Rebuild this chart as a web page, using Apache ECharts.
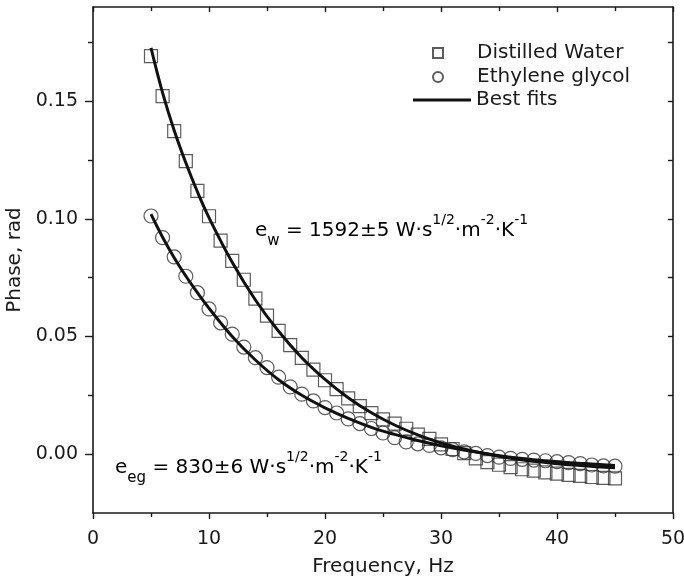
<!DOCTYPE html>
<html>
<head>
<meta charset="utf-8">
<script src="https://cdn.jsdelivr.net/npm/echarts@6/dist/echarts.min.js"></script>
<style>
	html, body { margin: 0; padding: 0; background: #fff; }
	#chart { width: 684px; height: 584px; }
</style>
</head>
<body>
<div id="chart"></div>
<script>
	// measured points, Hz
	var freq = [5, 6, 7, 8, 9, 10, 11, 12, 13, 14, 15, 16, 17, 18, 19, 20, 21, 22, 23, 24, 25,
		26, 27, 28, 29, 30, 31, 32, 33, 34, 35, 36, 37, 38, 39, 40, 41, 42, 43, 44, 45];
	var water = [0.1691, 0.1521, 0.1373, 0.1245, 0.1119, 0.1011, 0.0907, 0.0821, 0.0741, 0.0661, 0.0589,
		0.0524, 0.0463, 0.0409, 0.0359, 0.0314, 0.0276, 0.0237, 0.0204, 0.0174, 0.0148,
		0.0130, 0.0108, 0.0083, 0.0065, 0.0042, 0.0022, 0.0004, -0.0018, -0.0034, -0.0045,
		-0.0055, -0.0064, -0.0070, -0.0077, -0.0083, -0.0088, -0.0092, -0.0097, -0.0101, -0.0103];
	var glycol = [0.1012, 0.0920, 0.0838, 0.0756, 0.0686, 0.0617, 0.0558, 0.0510, 0.0455, 0.0410, 0.0368,
		0.0327, 0.0286, 0.0255, 0.0226, 0.0198, 0.0175, 0.0150, 0.0130, 0.0109, 0.0090,
		0.0070, 0.0052, 0.0044, 0.0037, 0.0027, 0.0019, 0.0010, 0.0003, -0.0006, -0.0013,
		-0.0018, -0.0022, -0.0025, -0.0028, -0.0032, -0.0036, -0.0040, -0.0046, -0.0050, -0.0051];

	// best fit curves
	var fitFreq = [5, 6, 7, 8, 9, 10, 12, 14, 16, 18, 20, 22, 24, 26, 28, 30, 33, 36, 39, 42, 45];
	var waterFit = [0.1726, 0.1535, 0.1375, 0.1238, 0.1115, 0.1005, 0.0815, 0.0655, 0.0522, 0.0410, 0.0318,
		0.0240, 0.0176, 0.0124, 0.0082, 0.0048, 0.0010, -0.0017, -0.0035, -0.0048, -0.0058];
	var glycolFit = [0.1020, 0.0922, 0.0835, 0.0757, 0.0686, 0.0620, 0.0500, 0.0400, 0.0316, 0.0250, 0.0197,
		0.0152, 0.0114, 0.0084, 0.0058, 0.0036, 0.0009, -0.0013, -0.0028, -0.0039, -0.0048];

	var yMajor = [0, 0.05, 0.10, 0.15];
	var yMinor = [0.025, 0.075, 0.125, 0.175];
	var yAll = [0, 0.025, 0.05, 0.075, 0.10, 0.125, 0.15, 0.175];

	var FONT = 'DejaVu Sans';
	var INK = '#1a1a1a';

	function pairs(xs, ys) {
		var out = [];
		for (var i = 0; i < xs.length; i++) {
			out.push([xs[i], ys[i]]);
		}
		return out;
	}

	var chart = echarts.init(document.getElementById('chart'), null, {renderer: 'canvas'});

	// sup sits at the line top, sub at the line bottom, main text in the middle
	var richText = {
		m: {fontSize: 20, fontFamily: FONT, color: INK, lineHeight: 36, verticalAlign: 'middle'},
		sub: {fontSize: 15, fontFamily: FONT, color: INK, verticalAlign: 'bottom'},
		sup: {fontSize: 14, fontFamily: FONT, color: INK, verticalAlign: 'top'}
	};

	chart.setOption({
		animation: false,
		backgroundColor: '#fff',
		grid: {left: 93, right: 11, top: 7, bottom: 71, outerBoundsMode: 'none'},
		legend: [
			{
				data: ['Distilled Water'], left: 432, top: 43, padding: 0,
				itemWidth: 10, itemHeight: 10, selectedMode: false,
				textStyle: {fontFamily: FONT, fontSize: 20, color: INK, padding: [0, 0, 0, 29]}
			},
			{
				data: ['Ethylene glycol'], left: 432, top: 67, padding: 0,
				itemWidth: 10, itemHeight: 10, selectedMode: false,
				textStyle: {fontFamily: FONT, fontSize: 20, color: INK, padding: [0, 0, 0, 29]}
			},
			{
				data: [{name: 'Best fits', icon: 'rect'}], left: 413, top: 90, padding: 0,
				itemWidth: 58, itemHeight: 3, selectedMode: false,
				itemStyle: {color: '#111'},
				textStyle: {fontFamily: FONT, fontSize: 20, color: INK}
			}
		],
		xAxis: [
			{
				type: 'value', position: 'bottom', min: 0, max: 50, interval: 10,
				name: 'Frequency, Hz', nameLocation: 'middle', nameGap: 44,
				nameTextStyle: {fontFamily: FONT, fontSize: 20, color: INK},
				axisLine: {onZero: false, lineStyle: {color: INK, width: 1.6}},
				axisTick: {length: 6, lineStyle: {color: INK, width: 1.4}},
				minorTick: {show: true, splitNumber: 2, length: 4, lineStyle: {color: INK, width: 1.4}},
				axisLabel: {fontFamily: FONT, fontSize: 19, color: INK, margin: 17},
				splitLine: {show: false}
			},
			{
				type: 'value', position: 'top', min: 0, max: 50, interval: 10,
				axisLine: {onZero: false, lineStyle: {color: INK, width: 1.6}},
				axisTick: {inside: true, length: 5, lineStyle: {color: INK, width: 1.4}},
				minorTick: {show: true, splitNumber: 2, length: 4, lineStyle: {color: INK, width: 1.4}},
				axisLabel: {show: false},
				splitLine: {show: false}
			}
		],
		yAxis: [
			{
				type: 'value', position: 'left', min: -0.025, max: 0.19,
				name: 'Phase, rad', nameLocation: 'middle', nameGap: 68,
				nameTextStyle: {fontFamily: FONT, fontSize: 20, color: INK},
				axisLine: {show: true, onZero: false, lineStyle: {color: INK, width: 1.6}},
				axisTick: {show: true, length: 8, customValues: yMajor, lineStyle: {color: INK, width: 1.4}},
				axisLabel: {
					fontFamily: FONT, fontSize: 19, color: INK, margin: 15, customValues: yMajor,
					formatter: function (v) { return v.toFixed(2); }
				},
				splitLine: {show: false}
			},
			{
				type: 'value', position: 'left', min: -0.025, max: 0.19,
				axisLine: {show: false, onZero: false},
				axisTick: {show: true, length: 5, customValues: yMinor, lineStyle: {color: INK, width: 1.4}},
				axisLabel: {show: false},
				splitLine: {show: false}
			},
			{
				type: 'value', position: 'right', min: -0.025, max: 0.19,
				axisLine: {show: true, onZero: false, lineStyle: {color: INK, width: 1.6}},
				axisTick: {show: true, inside: true, length: 5, customValues: yAll, lineStyle: {color: INK, width: 1.4}},
				axisLabel: {show: false},
				splitLine: {show: false}
			}
		],
		series: [
			{
				name: 'Distilled Water', type: 'scatter', data: pairs(freq, water),
				symbol: 'rect', symbolSize: 13, z: 2,
				itemStyle: {color: 'rgba(255,255,255,0)', borderColor: '#333', borderWidth: 1.2}
			},
			{
				name: 'Ethylene glycol', type: 'scatter', data: pairs(freq, glycol),
				symbol: 'circle', symbolSize: 14, z: 2,
				itemStyle: {color: 'rgba(255,255,255,0)', borderColor: '#333', borderWidth: 1.2}
			},
			{
				name: 'Best fits', type: 'line', data: pairs(fitFreq, waterFit),
				smooth: 0.4, symbol: 'none', z: 3,
				lineStyle: {color: '#111', width: 3}, itemStyle: {color: '#111'}
			},
			{
				name: 'Best fits', type: 'line', data: pairs(fitFreq, glycolFit),
				smooth: 0.4, symbol: 'none', z: 3,
				lineStyle: {color: '#111', width: 3}, itemStyle: {color: '#111'}
			}
		],
		graphic: [
			{
				type: 'text', x: 255, y: 213, z: 10,
				style: {
					text: '{m|e}{sub|w}{m| = 1592±5 W·s}{sup|1/2}{m|·m}{sup|-2}{m|·K}{sup|-1}',
					rich: richText
				}
			},
			{
				type: 'text', x: 115, y: 450, z: 10,
				style: {
					text: '{m|e}{sub|eg}{m| = 830±6 W·s}{sup|1/2}{m|·m}{sup|-2}{m|·K}{sup|-1}',
					rich: richText
				}
			}
		]
	});
</script>
</body>
</html>
